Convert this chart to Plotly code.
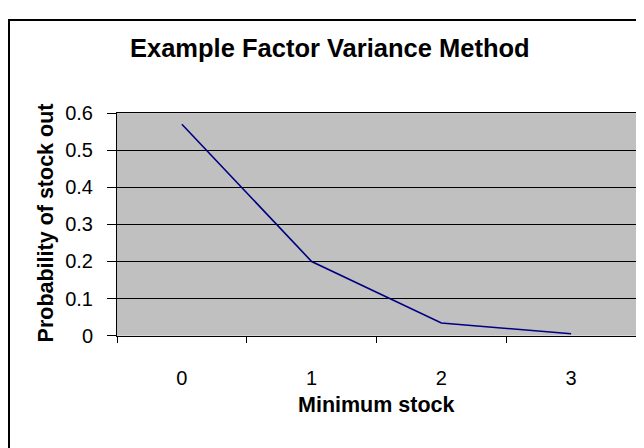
import plotly.graph_objects as go

categories = ["0", "1", "2", "3"]
probability = [0.57, 0.20, 0.034, 0.005]
y_ticks = [0, 0.1, 0.2, 0.3, 0.4, 0.5, 0.6]
y_tick_labels = ["0", "0.1", "0.2", "0.3", "0.4", "0.5", "0.6"]

W, H = 644, 448
OFF = 8  # page body margin offset
L, R, T, B = 117 - OFF, 636 - OFF, 107 - OFF, 341 - OFF
FONT = "Liberation Sans, Arial, sans-serif"

fig = go.Figure()
fig.add_trace(go.Scatter(x=categories, y=probability, mode="lines",
                         line=dict(color="#000080", width=1.6), showlegend=False))

fig.update_layout(
    width=W, height=H,
    margin=dict(l=0, r=0, t=0, b=0),
    paper_bgcolor="white",
    plot_bgcolor="#C0C0C0",
    font=dict(family=FONT, size=20, color="black"),
    xaxis=dict(
        type="category", domain=[L / W, R / W], range=[-0.5, 3.5],
        tickson="boundaries", ticks="outside", ticklen=6, tickcolor="black",
        showline=True, linecolor="black", linewidth=1, mirror=True,
        showgrid=False, tickfont=dict(size=20), ticklabelstandoff=24,
    ),
    yaxis=dict(
        domain=[1 - B / H, 1 - T / H], range=[0, 0.6],
        tickvals=y_ticks, ticktext=y_tick_labels,
        ticks="outside", ticklen=9, tickcolor="black",
        showline=True, linecolor="black", linewidth=1, mirror=True,
        showgrid=True, gridcolor="black", gridwidth=1, zeroline=False,
        tickfont=dict(size=20), ticklabelstandoff=10,
    ),
    shapes=[dict(type="rect", xref="paper", yref="paper",
                 x0=1 / W, x1=1.1, y0=-0.1, y1=1 - 1 / H,
                 line=dict(color="black", width=2))],
    annotations=[
        dict(text="<b>Example Factor Variance Method</b>", xref="paper", yref="paper",
             x=(330 - OFF) / W, y=1 - (39 - OFF) / H, showarrow=False, font=dict(size=25.5),
             xanchor="center", yanchor="middle"),
        dict(text="<b>Minimum stock</b>", xref="paper", yref="paper",
             x=(L + R) / 2 / W, y=1 - (414 - OFF) / H, showarrow=False, font=dict(size=21.5),
             xanchor="center", yanchor="middle"),
        dict(text="<b>Probability of stock out</b>", xref="paper", yref="paper",
             x=(46 - OFF) / W, y=1 - (223 - OFF) / H, showarrow=False, font=dict(size=21.5),
             textangle=-90, xanchor="center", yanchor="middle"),
    ],
)

fig.write_html("out.html")
